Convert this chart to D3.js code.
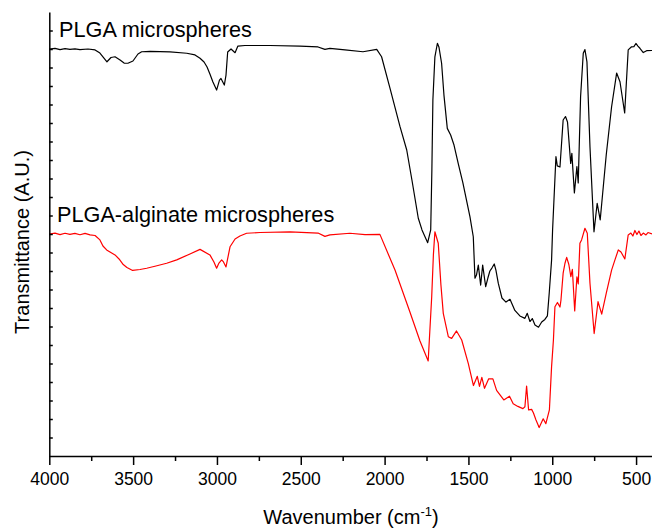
<!DOCTYPE html>
<html>
<head>
<meta charset="utf-8">
<script src="https://cdn.jsdelivr.net/npm/d3@7"></script>
<style>
  body { margin: 0; background: #fff; }
  svg { display: block; font-family: Arial, "Liberation Sans", sans-serif; }
</style>
</head>
<body>
<svg id="chart" width="652" height="528"></svg>
<script>
// wavenumber (cm-1) of each sampled point, PLGA spectrum
const plgaWave = [4000,3966,3936,3906,3877,3847,3817,3769,3727,3698,3656,3632,3608,3578,3554,3531,3501,3471,3449,3399,
  3280,3180,3131,3101,3077,3059,3042,3024,3002,2985,2976,2956,2946,2936,2916,2892,2875,2833,2684,2505,
  2397,2356,2326,2236,2129,2047,2018,1968,1908,1868,1837,1799,1777,1743,1725,1718,1712,1700,1685,1676,
  1660,1646,1626,1606,1586,1561,1533,1491,1471,1461,1452,1441,1427,1415,1397,1384,1372,1360,1346,1336,
  1322,1300,1276,1252,1223,1193,1163,1149,1133,1119,1103,1082,1063,1044,1029,1018,1004,998,978,970,
  954,935,921,909,890,883,868,853,845,831,815,805,793,775,751,732,714,678,646,616,
  596,568,547,527,513,501,489,477,457,437,405];
// transmittance (a.u., offset) PLGA
const plgaT = [22.00,22.03,21.97,22.02,21.98,22.01,21.97,22.00,21.95,21.78,21.31,21.54,21.58,21.41,21.24,21.23,21.35,21.73,21.85,21.87,
  21.84,21.77,21.68,21.50,21.30,21.03,20.65,20.22,19.78,20.32,20.41,20.05,20.59,21.84,22.00,21.80,22.16,22.19,22.19,22.16,
  22.11,21.98,22.03,21.95,21.85,21.98,21.58,19.89,17.80,16.54,14.92,12.85,12.22,11.53,12.22,15.46,19.24,21.58,22.31,22.11,
  21.23,19.51,17.71,17.35,16.81,15.82,14.76,12.94,11.85,9.61,9.78,10.32,9.24,10.32,9.15,9.62,10.00,10.16,10.38,10.05,
  9.34,8.54,8.32,8.47,7.87,7.57,7.44,7.71,7.27,7.43,7.08,6.96,7.24,7.38,7.57,8.81,10.59,12.22,16.18,15.68,
  15.62,18.16,18.35,18.05,15.82,16.36,14.22,15.64,14.76,19.42,21.77,21.97,21.30,16.72,12.12,13.66,12.76,16.27,18.88,20.70,
  20.23,18.54,21.95,22.12,22.13,22.30,22.16,22.04,21.81,21.91,21.92];

// PLGA-alginate spectrum
const algWave = [4000,3966,3936,3906,3877,3847,3817,3787,3757,3727,3698,3680,3658,3638,3608,3584,3559,3537,3503,3459,
  3419,3364,3300,3240,3161,3101,3042,3018,3002,2988,2972,2961,2946,2934,2922,2892,2863,2823,2743,2564,
  2397,2356,2326,2207,2117,2028,1938,1849,1789,1740,1719,1709,1700,1680,1664,1650,1620,1600,1571,1540,
  1501,1470,1447,1434,1420,1404,1379,1354,1332,1289,1255,1233,1205,1175,1163,1153,1141,1123,1112,1097,
  1078,1054,1038,1017,1004,993,984,969,954,948,935,924,914,901,889,880,866,853,845,835,
  825,805,791,775,750,727,705,678,646,626,606,590,567,547,531,519,507,495,483,471,
  457,441,429,405];
const algT = [12.00,12.05,11.97,12.04,11.98,12.03,11.96,12.03,11.95,11.92,11.68,11.35,11.14,11.03,10.87,10.65,10.35,10.19,10.03,10.08,
  10.15,10.27,10.42,10.60,10.92,11.17,10.87,10.49,10.15,10.43,10.60,10.49,10.22,10.76,11.31,11.73,11.89,12.04,12.08,12.11,
  12.05,11.87,11.95,12.04,11.97,11.98,10.05,7.78,6.22,5.14,8.61,10.87,12.12,11.50,9.24,7.71,6.45,6.36,6.76,6.27,
  5.01,3.81,4.31,3.76,4.25,3.66,4.17,4.17,3.55,3.03,3.23,2.82,2.68,2.56,2.66,3.78,2.49,2.52,2.32,1.95,
  1.54,2.01,1.75,2.49,4.83,6.27,8.07,8.30,8.05,8.43,9.88,10.42,10.74,10.35,9.69,10.09,7.84,9.68,9.30,11.50,
  11.68,12.31,12.04,9.34,6.62,8.34,7.67,8.79,10.05,10.60,11.14,11.03,10.65,11.95,12.05,11.89,12.19,11.97,12.16,11.92,
  12.05,11.95,12.08,12.00];

const seriesNames = ["PLGA microspheres", "PLGA-alginate microspheres"];
const seriesColors = ["#000000", "#ff0000"];
const xMajorTicks = [4000, 3500, 3000, 2500, 2000, 1500, 1000, 500];
const xMinorTicks = [3750, 3250, 2750, 2250, 1750, 1250, 750];
const yTicks = d3.range(1, 24);

const svg = d3.select("#chart");

const x = d3.scaleLinear().domain([4000, 405]).range([49.3, 652]);
const y = d3.scaleLinear().domain([0, 24]).range([456, 12]);

const series = [
  { name: seriesNames[0], color: seriesColors[0], pts: d3.zip(plgaWave, plgaT) },
  { name: seriesNames[1], color: seriesColors[1], pts: d3.zip(algWave, algT) }
];

const line = d3.line()
  .x(d => x(d[0]))
  .y(d => y(d[1]));

svg.append("g")
  .selectAll("path")
  .data(series)
  .enter().append("path")
  .attr("d", d => line(d.pts))
  .attr("fill", "none")
  .attr("stroke", d => d.color)
  .attr("stroke-width", 1.2)
  .attr("stroke-linejoin", "round");

// x axis, major + minor
const xAxisG = svg.append("g")
  .attr("transform", "translate(0,456)")
  .call(d3.axisBottom(x).tickValues(xMajorTicks).tickFormat(d3.format("d"))
    .tickSize(9).tickSizeOuter(0).tickPadding(8));
svg.append("g")
  .attr("transform", "translate(0,456)")
  .call(d3.axisBottom(x).tickValues(xMinorTicks).tickSize(5).tickFormat(""))
  .call(g => g.select(".domain").remove());

xAxisG.selectAll("text")
  .attr("font-size", "17.5px")
  .attr("font-family", "Arial, 'Liberation Sans', sans-serif")
  .attr("fill", "#000");

// y axis: inward ticks, no labels
svg.append("g")
  .attr("transform", "translate(49.3,0)")
  .call(d3.axisLeft(y).tickValues(yTicks).tickSize(-3.5).tickSizeOuter(0).tickFormat(""));

svg.selectAll(".domain, .tick line")
  .attr("stroke", "#000")
  .attr("stroke-width", 1.5);

// axis titles
const xt = svg.append("text")
  .attr("x", 351)
  .attr("y", 524)
  .attr("text-anchor", "middle")
  .attr("font-size", "20px");
xt.append("tspan").text("Wavenumber (cm");
xt.append("tspan").attr("font-size", "13px").attr("dy", "-8").text("-1");
xt.append("tspan").attr("dy", "8").text(")");

svg.append("text")
  .attr("transform", "translate(29,242) rotate(-90)")
  .attr("text-anchor", "middle")
  .attr("font-size", "20px")
  .text("Transmittance (A.U.)");

// curve labels
svg.append("text").attr("x", 59).attr("y", 37).attr("font-size", "21.7px").text(seriesNames[0]);
svg.append("text").attr("x", 57).attr("y", 221.5).attr("font-size", "21.7px").text(seriesNames[1]);
</script>
</body>
</html>
